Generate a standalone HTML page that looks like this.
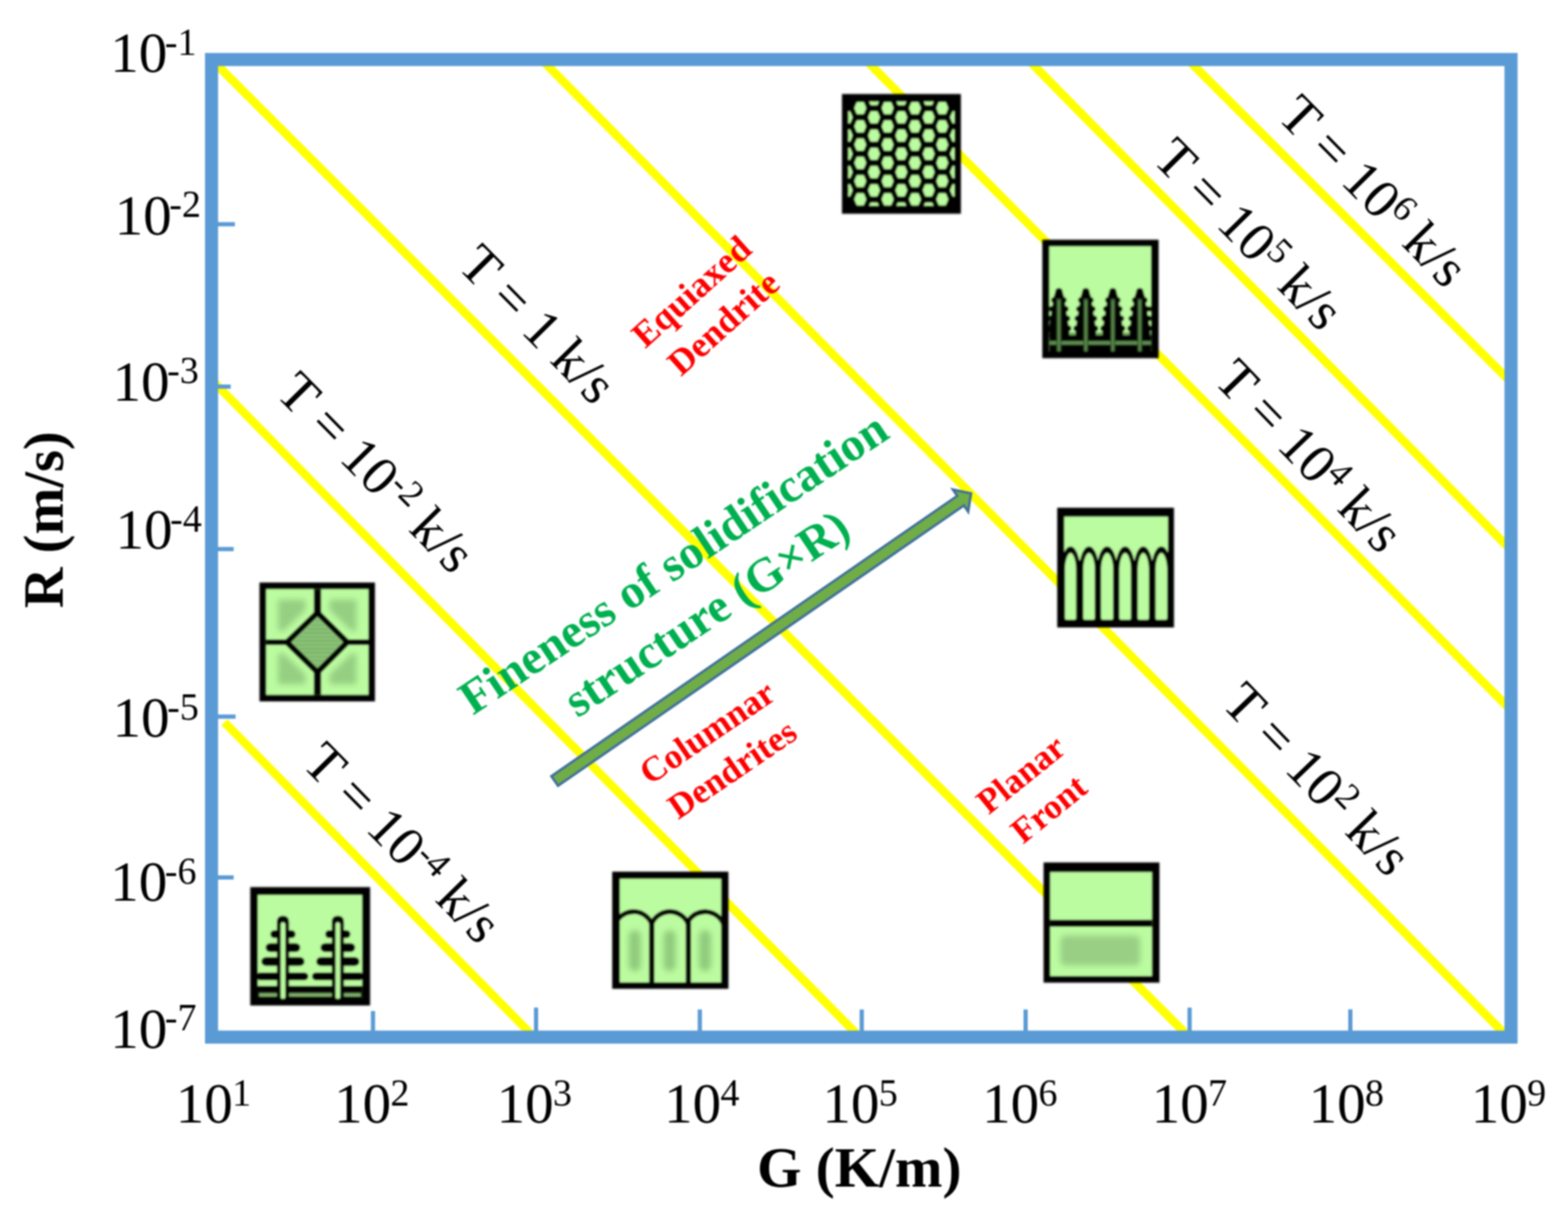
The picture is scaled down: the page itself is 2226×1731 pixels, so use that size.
<!DOCTYPE html>
<html lang="en"><head><meta charset="utf-8"><title>Solidification map</title>
<style>html,body{margin:0;padding:0;background:#fff}body{width:2226px;height:1731px;overflow:hidden}svg{display:block}text{font-family:'Liberation Serif','Times New Roman',serif;fill:#000}</style></head><body>
<svg xmlns="http://www.w3.org/2000/svg" width="2226" height="1731" viewBox="0 0 2226 1731">
<rect width="2226" height="1731" fill="#fff"/>
<defs><filter id="soft" x="0" y="0" width="100%" height="100%" filterUnits="userSpaceOnUse" color-interpolation-filters="sRGB"><feGaussianBlur stdDeviation="1.0"/></filter></defs>
<g filter="url(#soft)">
<rect width="2226" height="1731" fill="#fff"/>
<g stroke="#FFFF00" stroke-width="12.0" fill="none">
<line x1="318.6" y1="1025.6" x2="763.2" y2="1477.9"/>
<line x1="295.3" y1="534.1" x2="1225.5" y2="1477.8"/>
<line x1="295.9" y1="79.9" x2="1693.1" y2="1477.6"/>
<line x1="764.2" y1="79.8" x2="2145.1" y2="1477.2"/>
<line x1="1223.7" y1="79.8" x2="2150.3" y2="1013.8"/>
<line x1="1454.3" y1="79.3" x2="2150.2" y2="786.4"/>
<line x1="1681.1" y1="79.5" x2="2150.4" y2="548.0"/>
</g>
<path fill="#fff" fill-rule="evenodd" d="M0 0H2226V1731H0Z M292.0 76.2V1481.0H2153.4V76.2Z"/>
<rect x="300.3" y="84.5" width="1844.8" height="1388.2" fill="none" stroke="#5B9BD5" stroke-width="18.6"/>
<g fill="#5B9BD5">
<rect x="308.6" y="315.4" width="24.9" height="6.0"/>
<rect x="308.6" y="546.0" width="18.9" height="6.0"/>
<rect x="308.6" y="776.7" width="23.1" height="6.0"/>
<rect x="308.6" y="1014.6" width="25.9" height="6.0"/>
<rect x="308.6" y="1243.0" width="23.1" height="6.0"/>
<rect x="526.5" y="1435.7" width="6.0" height="28.7"/>
<rect x="758.0" y="1430.8" width="6.0" height="33.6"/>
<rect x="990.5" y="1433.5" width="6.0" height="30.9"/>
<rect x="1220.4" y="1433.5" width="6.0" height="30.9"/>
<rect x="1453.0" y="1433.5" width="6.0" height="30.9"/>
<rect x="1685.8" y="1430.8" width="6.0" height="33.6"/>
<rect x="1914.0" y="1433.3" width="6.0" height="31.1"/>
</g>
<path transform="translate(787.5 1109.0) rotate(-34.64)" d="M0.0 -8.3 L700.3 -8.3 L700.3 -19.0 L718.3 0.0 L700.3 19.0 L700.3 8.3 L0.0 8.3 Z" fill="#70AD47" stroke="#41719C" stroke-width="3.6" stroke-linejoin="miter"/>
<defs><filter id="blur4" x="-30%" y="-30%" width="160%" height="160%"><feGaussianBlur stdDeviation="4.0"/></filter></defs><defs><filter id="iblur" x="-5%" y="-5%" width="110%" height="110%"><feGaussianBlur stdDeviation="1.1"/></filter></defs><g filter="url(#iblur)"><g id="icon-hex"><rect x="1195.3" y="133.5" width="168.8" height="170.0" fill="#000"/><clipPath id="hexclip"><rect x="1204.3" y="144.2" width="150.7" height="148.0"/></clipPath><g clip-path="url(#hexclip)" fill="#BCFCA0" stroke="#BCFCA0" stroke-width="3.4" stroke-linejoin="round"><polygon points="1214.6,153.5 1217.5,146.5 1225.1,146.5 1228.0,153.5 1225.1,160.5 1217.5,160.5"/><polygon points="1214.6,179.4 1217.5,172.4 1225.1,172.4 1228.0,179.4 1225.1,186.4 1217.5,186.4"/><polygon points="1214.6,205.3 1217.5,198.3 1225.1,198.3 1228.0,205.3 1225.1,212.3 1217.5,212.3"/><polygon points="1214.6,231.2 1217.5,224.2 1225.1,224.2 1228.0,231.2 1225.1,238.2 1217.5,238.2"/><polygon points="1214.6,257.1 1217.5,250.1 1225.1,250.1 1228.0,257.1 1225.1,264.1 1217.5,264.1"/><polygon points="1214.6,283.0 1217.5,276.0 1225.1,276.0 1228.0,283.0 1225.1,290.0 1217.5,290.0"/><polygon points="1253.4,153.5 1256.3,146.5 1263.9,146.5 1266.8,153.5 1263.9,160.5 1256.3,160.5"/><polygon points="1253.4,179.4 1256.3,172.4 1263.9,172.4 1266.8,179.4 1263.9,186.4 1256.3,186.4"/><polygon points="1253.4,205.3 1256.3,198.3 1263.9,198.3 1266.8,205.3 1263.9,212.3 1256.3,212.3"/><polygon points="1253.4,231.2 1256.3,224.2 1263.9,224.2 1266.8,231.2 1263.9,238.2 1256.3,238.2"/><polygon points="1253.4,257.1 1256.3,250.1 1263.9,250.1 1266.8,257.1 1263.9,264.1 1256.3,264.1"/><polygon points="1253.4,283.0 1256.3,276.0 1263.9,276.0 1266.8,283.0 1263.9,290.0 1256.3,290.0"/><polygon points="1292.2,153.5 1295.1,146.5 1302.7,146.5 1305.6,153.5 1302.7,160.5 1295.1,160.5"/><polygon points="1292.2,179.4 1295.1,172.4 1302.7,172.4 1305.6,179.4 1302.7,186.4 1295.1,186.4"/><polygon points="1292.2,205.3 1295.1,198.3 1302.7,198.3 1305.6,205.3 1302.7,212.3 1295.1,212.3"/><polygon points="1292.2,231.2 1295.1,224.2 1302.7,224.2 1305.6,231.2 1302.7,238.2 1295.1,238.2"/><polygon points="1292.2,257.1 1295.1,250.1 1302.7,250.1 1305.6,257.1 1302.7,264.1 1295.1,264.1"/><polygon points="1292.2,283.0 1295.1,276.0 1302.7,276.0 1305.6,283.0 1302.7,290.0 1295.1,290.0"/><polygon points="1331.0,153.5 1333.9,146.5 1341.5,146.5 1344.4,153.5 1341.5,160.5 1333.9,160.5"/><polygon points="1331.0,179.4 1333.9,172.4 1341.5,172.4 1344.4,179.4 1341.5,186.4 1333.9,186.4"/><polygon points="1331.0,205.3 1333.9,198.3 1341.5,198.3 1344.4,205.3 1341.5,212.3 1333.9,212.3"/><polygon points="1331.0,231.2 1333.9,224.2 1341.5,224.2 1344.4,231.2 1341.5,238.2 1333.9,238.2"/><polygon points="1331.0,257.1 1333.9,250.1 1341.5,250.1 1344.4,257.1 1341.5,264.1 1333.9,264.1"/><polygon points="1331.0,283.0 1333.9,276.0 1341.5,276.0 1344.4,283.0 1341.5,290.0 1333.9,290.0"/><polygon points="1195.3,166.6 1198.2,159.6 1205.8,159.6 1208.7,166.6 1205.8,173.6 1198.2,173.6"/><polygon points="1195.3,192.5 1198.2,185.5 1205.8,185.5 1208.7,192.5 1205.8,199.5 1198.2,199.5"/><polygon points="1195.3,218.4 1198.2,211.4 1205.8,211.4 1208.7,218.4 1205.8,225.4 1198.2,225.4"/><polygon points="1195.3,244.3 1198.2,237.3 1205.8,237.3 1208.7,244.3 1205.8,251.3 1198.2,251.3"/><polygon points="1195.3,270.2 1198.2,263.2 1205.8,263.2 1208.7,270.2 1205.8,277.2 1198.2,277.2"/><polygon points="1234.1,140.7 1237.0,133.7 1244.6,133.7 1247.5,140.7 1244.6,147.7 1237.0,147.7"/><polygon points="1234.1,166.6 1237.0,159.6 1244.6,159.6 1247.5,166.6 1244.6,173.6 1237.0,173.6"/><polygon points="1234.1,192.5 1237.0,185.5 1244.6,185.5 1247.5,192.5 1244.6,199.5 1237.0,199.5"/><polygon points="1234.1,218.4 1237.0,211.4 1244.6,211.4 1247.5,218.4 1244.6,225.4 1237.0,225.4"/><polygon points="1234.1,244.3 1237.0,237.3 1244.6,237.3 1247.5,244.3 1244.6,251.3 1237.0,251.3"/><polygon points="1234.1,270.2 1237.0,263.2 1244.6,263.2 1247.5,270.2 1244.6,277.2 1237.0,277.2"/><polygon points="1234.1,296.1 1237.0,289.1 1244.6,289.1 1247.5,296.1 1244.6,303.1 1237.0,303.1"/><polygon points="1272.9,140.7 1275.8,133.7 1283.4,133.7 1286.3,140.7 1283.4,147.7 1275.8,147.7"/><polygon points="1272.9,166.6 1275.8,159.6 1283.4,159.6 1286.3,166.6 1283.4,173.6 1275.8,173.6"/><polygon points="1272.9,192.5 1275.8,185.5 1283.4,185.5 1286.3,192.5 1283.4,199.5 1275.8,199.5"/><polygon points="1272.9,218.4 1275.8,211.4 1283.4,211.4 1286.3,218.4 1283.4,225.4 1275.8,225.4"/><polygon points="1272.9,244.3 1275.8,237.3 1283.4,237.3 1286.3,244.3 1283.4,251.3 1275.8,251.3"/><polygon points="1272.9,270.2 1275.8,263.2 1283.4,263.2 1286.3,270.2 1283.4,277.2 1275.8,277.2"/><polygon points="1272.9,296.1 1275.8,289.1 1283.4,289.1 1286.3,296.1 1283.4,303.1 1275.8,303.1"/><polygon points="1311.7,140.7 1314.6,133.7 1322.2,133.7 1325.1,140.7 1322.2,147.7 1314.6,147.7"/><polygon points="1311.7,166.6 1314.6,159.6 1322.2,159.6 1325.1,166.6 1322.2,173.6 1314.6,173.6"/><polygon points="1311.7,192.5 1314.6,185.5 1322.2,185.5 1325.1,192.5 1322.2,199.5 1314.6,199.5"/><polygon points="1311.7,218.4 1314.6,211.4 1322.2,211.4 1325.1,218.4 1322.2,225.4 1314.6,225.4"/><polygon points="1311.7,244.3 1314.6,237.3 1322.2,237.3 1325.1,244.3 1322.2,251.3 1314.6,251.3"/><polygon points="1311.7,270.2 1314.6,263.2 1322.2,263.2 1325.1,270.2 1322.2,277.2 1314.6,277.2"/><polygon points="1311.7,296.1 1314.6,289.1 1322.2,289.1 1325.1,296.1 1322.2,303.1 1314.6,303.1"/><polygon points="1350.5,166.6 1353.4,159.6 1361.0,159.6 1363.9,166.6 1361.0,173.6 1353.4,173.6"/><polygon points="1350.5,192.5 1353.4,185.5 1361.0,185.5 1363.9,192.5 1361.0,199.5 1353.4,199.5"/><polygon points="1350.5,218.4 1353.4,211.4 1361.0,211.4 1363.9,218.4 1361.0,225.4 1353.4,225.4"/><polygon points="1350.5,244.3 1353.4,237.3 1361.0,237.3 1363.9,244.3 1361.0,251.3 1353.4,251.3"/><polygon points="1350.5,270.2 1353.4,263.2 1361.0,263.2 1363.9,270.2 1361.0,277.2 1353.4,277.2"/></g></g></g><g filter="url(#iblur)"><g id="icon-dend4"><rect x="1479.7" y="340.4" width="165.1" height="168.2" fill="#000"/><rect x="1489.6" y="349.7" width="144.6" height="149.3" fill="#BCFCA0"/><clipPath id="d4clip"><rect x="1489.6" y="349.7" width="144.6" height="149.3"/></clipPath><g clip-path="url(#d4clip)"><rect x="1489.6" y="475.8" width="144.6" height="30" fill="#000"/><rect x="1489.6" y="472.2" width="144.6" height="3.6" fill="#6FA35F"/><rect x="1489.6" y="484.2" width="144.6" height="5.4" fill="#5E8E50"/><rect x="1488.6" y="435.5" width="13.7" height="6.6" fill="#000"/><rect x="1618.1" y="435.5" width="17.1" height="6.6" fill="#000"/><rect x="1488.6" y="448.9" width="13.7" height="6.6" fill="#000"/><rect x="1618.1" y="448.9" width="17.1" height="6.6" fill="#000"/><rect x="1488.6" y="463.1" width="13.7" height="6.6" fill="#000"/><rect x="1618.1" y="463.1" width="17.1" height="6.6" fill="#000"/><path fill="#000" d="M1498.1 415 Q1498.1 409 1503.3 409 Q1508.5 409 1508.5 415 L1510.3 421 L1517.8 468 L1517.8 478 L1488.8 478 L1488.8 468 L1496.3 421 Z"/><ellipse cx="1497.3" cy="426.1" rx="5.0" ry="4.3" fill="#000"/><ellipse cx="1509.3" cy="426.1" rx="5.0" ry="4.3" fill="#000"/><ellipse cx="1494.5" cy="438.8" rx="5.0" ry="4.3" fill="#000"/><ellipse cx="1512.1" cy="438.8" rx="5.0" ry="4.3" fill="#000"/><ellipse cx="1492.3" cy="452.2" rx="5.0" ry="4.3" fill="#000"/><ellipse cx="1514.3" cy="452.2" rx="5.0" ry="4.3" fill="#000"/><ellipse cx="1490.7" cy="466.4" rx="5.0" ry="4.3" fill="#000"/><ellipse cx="1515.9" cy="466.4" rx="5.0" ry="4.3" fill="#000"/><path fill="#000" d="M1536.3 415 Q1536.3 409 1541.5 409 Q1546.7 409 1546.7 415 L1548.5 421 L1556.0 468 L1556.0 478 L1527.0 478 L1527.0 468 L1534.5 421 Z"/><ellipse cx="1535.5" cy="426.1" rx="5.0" ry="4.3" fill="#000"/><ellipse cx="1547.5" cy="426.1" rx="5.0" ry="4.3" fill="#000"/><ellipse cx="1532.7" cy="438.8" rx="5.0" ry="4.3" fill="#000"/><ellipse cx="1550.3" cy="438.8" rx="5.0" ry="4.3" fill="#000"/><ellipse cx="1530.5" cy="452.2" rx="5.0" ry="4.3" fill="#000"/><ellipse cx="1552.5" cy="452.2" rx="5.0" ry="4.3" fill="#000"/><ellipse cx="1528.9" cy="466.4" rx="5.0" ry="4.3" fill="#000"/><ellipse cx="1554.1" cy="466.4" rx="5.0" ry="4.3" fill="#000"/><path fill="#000" d="M1574.6 415 Q1574.6 409 1579.8 409 Q1585.0 409 1585.0 415 L1586.8 421 L1594.3 468 L1594.3 478 L1565.3 478 L1565.3 468 L1572.8 421 Z"/><ellipse cx="1573.8" cy="426.1" rx="5.0" ry="4.3" fill="#000"/><ellipse cx="1585.8" cy="426.1" rx="5.0" ry="4.3" fill="#000"/><ellipse cx="1571.0" cy="438.8" rx="5.0" ry="4.3" fill="#000"/><ellipse cx="1588.6" cy="438.8" rx="5.0" ry="4.3" fill="#000"/><ellipse cx="1568.8" cy="452.2" rx="5.0" ry="4.3" fill="#000"/><ellipse cx="1590.8" cy="452.2" rx="5.0" ry="4.3" fill="#000"/><ellipse cx="1567.2" cy="466.4" rx="5.0" ry="4.3" fill="#000"/><ellipse cx="1592.4" cy="466.4" rx="5.0" ry="4.3" fill="#000"/><path fill="#000" d="M1612.9 415 Q1612.9 409 1618.1 409 Q1623.3 409 1623.3 415 L1625.1 421 L1632.6 468 L1632.6 478 L1603.6 478 L1603.6 468 L1611.1 421 Z"/><ellipse cx="1612.1" cy="426.1" rx="5.0" ry="4.3" fill="#000"/><ellipse cx="1624.1" cy="426.1" rx="5.0" ry="4.3" fill="#000"/><ellipse cx="1609.3" cy="438.8" rx="5.0" ry="4.3" fill="#000"/><ellipse cx="1626.9" cy="438.8" rx="5.0" ry="4.3" fill="#000"/><ellipse cx="1607.1" cy="452.2" rx="5.0" ry="4.3" fill="#000"/><ellipse cx="1629.1" cy="452.2" rx="5.0" ry="4.3" fill="#000"/><ellipse cx="1605.5" cy="466.4" rx="5.0" ry="4.3" fill="#000"/><ellipse cx="1630.7" cy="466.4" rx="5.0" ry="4.3" fill="#000"/><rect x="1499.9" y="424" width="6.8" height="76" fill="#2E4A28"/><rect x="1501.7" y="426" width="3.2" height="73" rx="1.5" fill="#5C8C4E"/><rect x="1538.1" y="424" width="6.8" height="76" fill="#2E4A28"/><rect x="1539.9" y="426" width="3.2" height="73" rx="1.5" fill="#5C8C4E"/><rect x="1576.4" y="424" width="6.8" height="76" fill="#2E4A28"/><rect x="1578.2" y="426" width="3.2" height="73" rx="1.5" fill="#5C8C4E"/><rect x="1614.7" y="424" width="6.8" height="76" fill="#2E4A28"/><rect x="1616.5" y="426" width="3.2" height="73" rx="1.5" fill="#5C8C4E"/></g></g></g><g filter="url(#iblur)"><g id="icon-cells6"><rect x="1500.9" y="721.0" width="165.7" height="170.0" fill="#000"/><rect x="1510.8" y="733.6" width="147.2" height="62" fill="#BCFCA0"/><path fill="#000" d="M1505.8 814 C1505.8 792 1512.1 776.0 1519.8 776.0 C1527.4 776.0 1533.7 792 1533.7 814 Z"/><path fill="#000" d="M1531.8 814 C1531.8 792 1538.2 776.0 1546.0 776.0 C1553.9 776.0 1560.3 792 1560.3 814 Z"/><path fill="#000" d="M1557.1 814 C1557.1 792 1563.7 776.0 1571.7 776.0 C1579.7 776.0 1586.3 792 1586.3 814 Z"/><path fill="#000" d="M1583.1 814 C1583.1 792 1589.5 776.0 1597.3 776.0 C1605.2 776.0 1611.6 792 1611.6 814 Z"/><path fill="#000" d="M1609.1 814 C1609.1 792 1615.4 776.0 1623.0 776.0 C1630.7 776.0 1637.0 792 1637.0 814 Z"/><path fill="#000" d="M1634.4 814 C1634.4 792 1640.8 776.0 1648.7 776.0 C1656.6 776.0 1663.0 792 1663.0 814 Z"/><path fill="#BCFCA0" d="M1511.8 878.0 L1511.8 808 C1511.8 796 1515.8 785.0 1519.8 785.0 C1523.7 785.0 1527.7 796 1527.7 808 L1527.7 878.0 Q1527.7 880.0 1525.7 880.0 L1513.8 880.0 Q1511.8 880.0 1511.8 878.0 Z"/><path fill="#BCFCA0" d="M1537.8 878.0 L1537.8 808 C1537.8 796 1541.9 785.0 1546.0 785.0 C1550.2 785.0 1554.3 796 1554.3 808 L1554.3 878.0 Q1554.3 880.0 1552.3 880.0 L1539.8 880.0 Q1537.8 880.0 1537.8 878.0 Z"/><path fill="#BCFCA0" d="M1563.1 878.0 L1563.1 808 C1563.1 796 1567.4 785.0 1571.7 785.0 C1576.0 785.0 1580.3 796 1580.3 808 L1580.3 878.0 Q1580.3 880.0 1578.3 880.0 L1565.1 880.0 Q1563.1 880.0 1563.1 878.0 Z"/><path fill="#BCFCA0" d="M1589.1 878.0 L1589.1 808 C1589.1 796 1593.2 785.0 1597.3 785.0 C1601.5 785.0 1605.6 796 1605.6 808 L1605.6 878.0 Q1605.6 880.0 1603.6 880.0 L1591.1 880.0 Q1589.1 880.0 1589.1 878.0 Z"/><path fill="#BCFCA0" d="M1615.1 878.0 L1615.1 808 C1615.1 796 1619.1 785.0 1623.0 785.0 C1627.0 785.0 1631.0 796 1631.0 808 L1631.0 878.0 Q1631.0 880.0 1629.0 880.0 L1617.1 880.0 Q1615.1 880.0 1615.1 878.0 Z"/><path fill="#BCFCA0" d="M1640.4 878.0 L1640.4 808 C1640.4 796 1644.6 785.0 1648.7 785.0 C1652.8 785.0 1657.0 796 1657.0 808 L1657.0 878.0 Q1657.0 880.0 1655.0 880.0 L1642.4 880.0 Q1640.4 880.0 1640.4 878.0 Z"/></g></g><g filter="url(#iblur)"><g id="icon-grains"><rect x="368.4" y="827.2" width="163.9" height="168.8" fill="#000"/><rect x="377.7" y="836.5" width="145.3" height="150.2" fill="#BCFCA0"/><g filter="url(#blur4)" fill="#95CF82"><path d="M394.7 851.5 L433.7 851.5 L433.7 865.9 L402.7 895.9 L394.7 895.9 Z"/><path d="M506.0 851.5 L467.7 851.5 L467.7 865.9 L498.7 895.9 L506.0 895.9 Z"/><path d="M394.7 971.7 L433.7 971.7 L433.7 957.9 L402.7 927.9 L394.7 927.9 Z"/><path d="M506.0 971.7 L467.7 971.7 L467.7 957.9 L498.7 927.9 L506.0 927.9 Z"/></g><rect x="445.7" y="836.5" width="10.0" height="150.2" fill="#000"/><rect x="377.7" y="908.1" width="145.3" height="7.6" fill="#000"/><polygon points="450.7,870.0 493.0,911.9 450.7,954.5 407.4,911.9" fill="#8DC67A" stroke="#000" stroke-width="8.0" stroke-linejoin="miter"/><clipPath id="diaclip"><polygon points="450.7,879 484.5,911.9 450.7,946 416,911.9"/></clipPath><g clip-path="url(#diaclip)" stroke="#78AD66" stroke-width="2.4"><line x1="410" y1="882.0" x2="492" y2="882.0"/><line x1="410" y1="887.6" x2="492" y2="887.6"/><line x1="410" y1="893.2" x2="492" y2="893.2"/><line x1="410" y1="898.8" x2="492" y2="898.8"/><line x1="410" y1="904.4" x2="492" y2="904.4"/><line x1="410" y1="910.0" x2="492" y2="910.0"/><line x1="410" y1="915.6" x2="492" y2="915.6"/><line x1="410" y1="921.2" x2="492" y2="921.2"/><line x1="410" y1="926.8" x2="492" y2="926.8"/><line x1="410" y1="932.4" x2="492" y2="932.4"/><line x1="410" y1="938.0" x2="492" y2="938.0"/><line x1="410" y1="943.6" x2="492" y2="943.6"/></g></g></g><g filter="url(#iblur)"><g id="icon-dend2"><rect x="355.3" y="1259.7" width="170.1" height="168.1" fill="#000"/><rect x="365.9" y="1270.8" width="148.3" height="148.2" fill="#BCFCA0"/><rect x="365.9" y="1400.0" width="148.3" height="8.8" fill="#000"/><rect x="365.9" y="1408.8" width="148.3" height="10.2" fill="#000"/><rect x="367.9" y="1410.3" width="144.3" height="5.0" fill="#80B26C"/><rect x="383.9" y="1320.9" width="35.6" height="11.2" rx="5.6" ry="5.6" fill="#000"/><rect x="377.2" y="1339.4" width="49.0" height="12.4" rx="6.2" ry="6.2" fill="#000"/><rect x="371.2" y="1359.2" width="61.0" height="12.4" rx="6.2" ry="6.2" fill="#000"/><rect x="461.8" y="1320.9" width="35.6" height="11.2" rx="5.6" ry="5.6" fill="#000"/><rect x="455.1" y="1339.4" width="49.0" height="12.4" rx="6.2" ry="6.2" fill="#000"/><rect x="449.1" y="1359.2" width="61.0" height="12.4" rx="6.2" ry="6.2" fill="#000"/><rect x="363.9" y="1380.9" width="73.7" height="11.0" rx="5.5" fill="#000"/><rect x="443.0" y="1380.9" width="73.2" height="11.0" rx="5.5" fill="#000"/><path fill="#000" d="M393.1 1420 L393.1 1309 Q393.1 1300.5 401.7 1300.5 Q410.3 1300.5 410.3 1309 L410.3 1420 Z"/><path fill="#BCFCA0" d="M398.4 1417 L398.4 1313 Q398.4 1309.5 401.7 1309.5 Q405.0 1309.5 405.0 1313 L405.0 1417 Q401.7 1420 398.4 1417 Z"/><path fill="#000" d="M471.0 1420 L471.0 1309 Q471.0 1300.5 479.6 1300.5 Q488.2 1300.5 488.2 1309 L488.2 1420 Z"/><path fill="#BCFCA0" d="M476.3 1417 L476.3 1313 Q476.3 1309.5 479.6 1309.5 Q482.9 1309.5 482.9 1313 L482.9 1417 Q479.6 1420 476.3 1417 Z"/></g></g><g filter="url(#iblur)"><g id="icon-cells3"><rect x="869.1" y="1237.8" width="165.0" height="166.3" fill="#000"/><rect x="880.0" y="1247.8" width="143.8" height="147.2" fill="#BCFCA0"/><clipPath id="c3clip"><rect x="880.0" y="1247.8" width="143.8" height="147.2"/></clipPath><g filter="url(#blur4)" fill="#8FCA7C"><rect x="892.7" y="1321" width="17" height="58" rx="8" ry="8"/><rect x="942.1" y="1321" width="17" height="58" rx="8" ry="8"/><rect x="992.3" y="1321" width="17" height="58" rx="8" ry="8"/></g><g clip-path="url(#c3clip)"><rect x="921.6" y="1308" width="7.4" height="89.0" fill="#000"/><rect x="973.6" y="1308" width="7.4" height="89.0" fill="#000"/><path fill="none" stroke="#000" stroke-width="6.6" stroke-linecap="round" d="M877.0 1305.8 A28.0 28.0 0 0 1 925.3 1312.0 M925.3 1311.5 A28.0 28.0 0 0 1 977.3 1313.0 M977.3 1307.7 A28.0 28.0 0 0 1 1026.8 1311.7 "/></g></g></g><g filter="url(#iblur)"><g id="icon-planar"><rect x="1481.5" y="1224.7" width="164.5" height="170.7" fill="#000"/><rect x="1490.8" y="1238.3" width="144.7" height="147.7" fill="#BCFCA0"/><rect x="1505.5" y="1328.5" width="113" height="42.5" rx="6" ry="6" fill="#98CF84" filter="url(#blur4)"/><rect x="1490.8" y="1306.3" width="144.7" height="9.6" fill="#000"/></g></g>
<g>
<text x="156.5" y="102.4" font-size="81.0">10<tspan font-size="54.0" dx="-3.5" dy="-24.3">-1</tspan></text>
<text x="162.8" y="332.6" font-size="81.0">10<tspan font-size="54.0" dx="-3.5" dy="-24.3">-2</tspan></text>
<text x="159.7" y="568.6" font-size="81.0">10<tspan font-size="54.0" dx="-3.5" dy="-24.3">-3</tspan></text>
<text x="164.0" y="779.0" font-size="81.0">10<tspan font-size="54.0" dx="-3.5" dy="-24.3">-4</tspan></text>
<text x="159.7" y="1046.0" font-size="81.0">10<tspan font-size="54.0" dx="-3.5" dy="-24.3">-5</tspan></text>
<text x="156.5" y="1279.0" font-size="81.0">10<tspan font-size="54.0" dx="-3.5" dy="-24.3">-6</tspan></text>
<text x="156.5" y="1487.5" font-size="81.0">10<tspan font-size="54.0" dx="-3.5" dy="-24.3">-7</tspan></text>
<text x="249.4" y="1594.3" font-size="81.0">10<tspan font-size="54.0" dx="-1.0" dy="-24.3">1</tspan></text>
<text x="474.2" y="1594.3" font-size="81.0">10<tspan font-size="54.0" dx="-1.0" dy="-24.3">2</tspan></text>
<text x="704.9" y="1594.3" font-size="81.0">10<tspan font-size="54.0" dx="-1.0" dy="-24.3">3</tspan></text>
<text x="942.8" y="1594.3" font-size="81.0">10<tspan font-size="54.0" dx="-1.0" dy="-24.3">4</tspan></text>
<text x="1167.6" y="1594.3" font-size="81.0">10<tspan font-size="54.0" dx="-1.0" dy="-24.3">5</tspan></text>
<text x="1394.2" y="1594.3" font-size="81.0">10<tspan font-size="54.0" dx="-1.0" dy="-24.3">6</tspan></text>
<text x="1634.9" y="1594.3" font-size="81.0">10<tspan font-size="54.0" dx="-1.0" dy="-24.3">7</tspan></text>
<text x="1857.7" y="1594.3" font-size="81.0">10<tspan font-size="54.0" dx="-1.0" dy="-24.3">8</tspan></text>
<text x="2088.1" y="1594.3" font-size="81.0">10<tspan font-size="54.0" dx="-1.0" dy="-24.3">9</tspan></text>
</g>
<text x="1074.7" y="1685.0" font-size="81" font-weight="bold">G (K/m)</text>
<text transform="translate(89.0 863.5) rotate(-90)" font-size="80" font-weight="bold">R (m/s)</text>
<g>
<text transform="translate(647.4 378.9) rotate(45.50)" font-size="78.0" xml:space="preserve">T = 1 k/s</text>
<text transform="translate(389.2 560.1) rotate(45.50)" font-size="78.0" xml:space="preserve">T = 10<tspan font-size="52.0" dy="-23.4">-2</tspan><tspan dy="23.4"> k/s</tspan></text>
<text transform="translate(426.6 1085.9) rotate(45.50)" font-size="78.0" xml:space="preserve">T = 10<tspan font-size="52.0" dy="-23.4">-4</tspan><tspan dy="23.4"> k/s</tspan></text>
<text transform="translate(1732.0 1000.6) rotate(46.00)" font-size="78.0" xml:space="preserve">T = 10<tspan font-size="52.0" dy="-23.4">2</tspan><tspan dy="23.4"> k/s</tspan></text>
<text transform="translate(1720.9 541.6) rotate(46.00)" font-size="78.0" xml:space="preserve">T = 10<tspan font-size="52.0" dy="-23.4">4</tspan><tspan dy="23.4"> k/s</tspan></text>
<text transform="translate(1634.1 227.8) rotate(45.50)" font-size="78.0" xml:space="preserve">T = 10<tspan font-size="52.0" dy="-23.4">5</tspan><tspan dy="23.4"> k/s</tspan></text>
<text transform="translate(1811.0 166.8) rotate(45.50)" font-size="78.0" xml:space="preserve">T = 10<tspan font-size="52.0" dy="-23.4">6</tspan><tspan dy="23.4"> k/s</tspan></text>
</g>
<g font-weight="bold" style="fill:#FF0000" text-anchor="middle">
<g transform="translate(992.9 426.6) rotate(-42.00)" font-size="51.0">
<text x="0.0" y="0.0" style="fill:#FF0000">Equiaxed</text>
<text x="4.0" y="63.5" style="fill:#FF0000">Dendrite</text>
</g>
<g transform="translate(1013.2 1053.7) rotate(-34.30)" font-size="50.0">
<text x="0.0" y="0.0" style="fill:#FF0000">Columnar</text>
<text x="0.0" y="63.0" style="fill:#FF0000">Dendrites</text>
</g>
<g transform="translate(1459.7 1112.4) rotate(-39.00)" font-size="50.0">
<text x="0.0" y="0.0" style="fill:#FF0000">Planar</text>
<text x="0.0" y="63.0" style="fill:#FF0000">Front</text>
</g>
</g>
<g font-weight="bold">
<text transform="translate(671.3 1016.4) rotate(-33.70)" font-size="68.0" style="fill:#00B050">Fineness of solidification</text>
<text transform="translate(820.0 1020.0) rotate(-33.70)" font-size="68.0" style="fill:#00B050">structure (G×R)</text>
</g>
</g>
</svg></body></html>
